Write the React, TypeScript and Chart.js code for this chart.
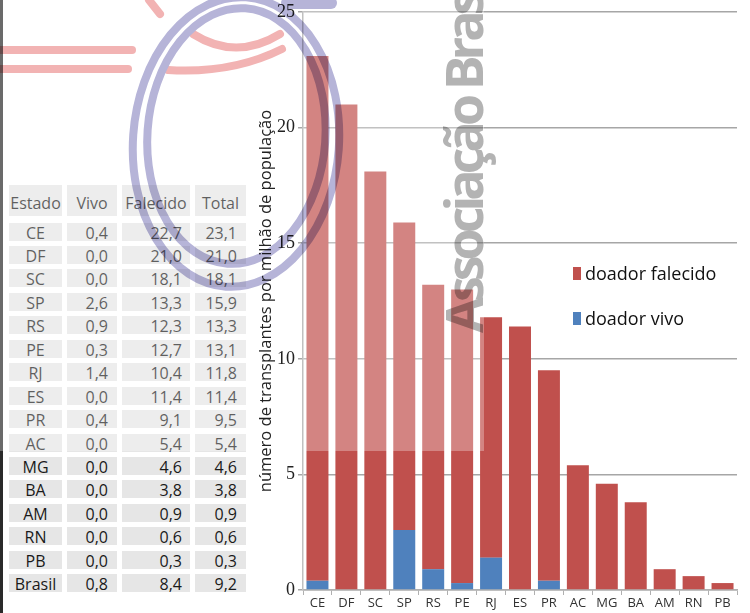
import React, { useEffect, useRef } from "react";
import { Chart, registerables } from "chart.js";

Chart.register(...registerables);

const estados = ["CE", "DF", "SC", "SP", "RS", "PE", "RJ", "ES", "PR", "AC", "MG", "BA", "AM", "RN", "PB"];
const vivo = [0.4, 0.0, 0.0, 2.6, 0.9, 0.3, 1.4, 0.0, 0.4, 0.0, 0.0, 0.0, 0.0, 0.0, 0.0];
const falecido = [22.7, 21.0, 18.1, 13.3, 12.3, 12.7, 10.4, 11.4, 9.1, 5.4, 4.6, 3.8, 0.9, 0.6, 0.3];
const total = [23.1, 21.0, 18.1, 15.9, 13.3, 13.1, 11.8, 11.4, 9.5, 5.4, 4.6, 3.8, 0.9, 0.6, 0.3];
const brasil = { estado: "Brasil", vivo: 0.8, falecido: 8.4, total: 9.2 };
const tableHeaders = ["Estado", "Vivo", "Falecido", "Total"];
const yTitle = "número de transplantes por milhão de população";
const legendLabels = ["doador falecido", "doador vivo"];
const watermarkText = "Associação Bras";

const RED = "#c0504d";
const BLUE = "#4f81bd";

const fmt = (v: number) => v.toFixed(1).replace(".", ",");

const cols = [
  { left: 9, width: 53, align: "center" as const, padR: 0 },
  { left: 67, width: 50, align: "right" as const, padR: 9 },
  { left: 122, width: 68, align: "right" as const, padR: 8 },
  { left: 195, width: 51, align: "right" as const, padR: 9 },
];

function Table() {
  const rows = estados.map((e, i) => [e, fmt(vivo[i]), fmt(falecido[i]), fmt(total[i])]);
  rows.push([brasil.estado, fmt(brasil.vivo), fmt(brasil.falecido), fmt(brasil.total)]);
  const font = { fontFamily: "'Open Sans', sans-serif", fontSize: 16, color: "#1a1a1a" };
  return (
    <>
      {tableHeaders.map((h, c) => (
        <div
          key={"h" + c}
          style={{
            position: "absolute",
            left: cols[c].left,
            top: 185,
            width: cols[c].width,
            height: 31,
            background: "#e6e6e6",
            textAlign: "center",
            lineHeight: "36px",
            whiteSpace: "nowrap",
            ...font,
          }}
        >
          {h}
        </div>
      ))}
      {rows.map((r, i) =>
        r.map((t, c) => (
          <div
            key={i + "-" + c}
            style={{
              position: "absolute",
              left: cols[c].left,
              top: 222.5 + i * 23.45,
              width: cols[c].width,
              height: 18,
              background: "#e6e6e6",
              textAlign: cols[c].align,
              boxSizing: "border-box",
              paddingRight: cols[c].padR,
              lineHeight: "20px",
              whiteSpace: "nowrap",
              ...font,
            }}
          >
            {t}
          </div>
        ))
      )}
    </>
  );
}

export default function App() {
  const ref = useRef<HTMLCanvasElement | null>(null);

  useEffect(() => {
    document.body.style.margin = "0";
    const canvas = ref.current;
    if (!canvas) return;
    const chart = new Chart(canvas, {
      type: "bar",
      data: {
        labels: estados,
        datasets: [
          { label: legendLabels[1], data: vivo, backgroundColor: BLUE },
          { label: legendLabels[0], data: falecido, backgroundColor: RED },
        ],
      },
      options: {
        animation: false,
        responsive: false,
        layout: { padding: { left: 255, right: 13, top: 10, bottom: 0 } },
        plugins: { legend: { display: false }, tooltip: { enabled: false } },
        datasets: { bar: { categoryPercentage: 1, barPercentage: 0.76 } },
        scales: {
          x: {
            stacked: true,
            grid: { display: true, drawOnChartArea: false, tickLength: 5, color: "#b0b0b0", offset: true },
            border: { color: "#b0b0b0", width: 1.5 },
            ticks: {
              font: { family: "'Open Sans', sans-serif", size: 13 },
              color: "#333333",
              padding: 0,
              maxRotation: 0,
              autoSkip: false,
            },
            afterFit: (s: any) => {
              s.height = 23;
            },
          },
          y: {
            stacked: true,
            min: 0,
            max: 25,
            ticks: {
              stepSize: 5,
              font: { family: "'Liberation Serif', serif", size: 18, lineHeight: 1 },
              color: "#222222",
              padding: 3,
            },
            grid: { color: "#a6a6a6", lineWidth: 1.5, tickLength: 5 },
            border: { color: "#c0c0c0", width: 1.5 },
            title: {
              display: true,
              text: yTitle,
              font: { family: "'Open Sans', sans-serif", size: 16.5 },
              color: "#222222",
              padding: { top: 1, bottom: 0 },
            },
            afterFit: (s: any) => {
              s.width = 48;
            },
          },
        },
      },
    });
    return () => chart.destroy();
  }, []);

  const legendFont = { fontFamily: "'Open Sans', sans-serif", fontSize: 18, color: "#111" };

  return (
    <div
      style={{
        position: "absolute",
        left: 0,
        top: 0,
        width: 750,
        height: 613,
        overflow: "hidden",
        background: "#ffffff",
      }}
    >
      <div style={{ position: "absolute", left: 0, top: 0, width: 2.5, height: 613, background: "#2a2a2a" }} />
      <Table />
      <canvas
        ref={ref}
        width={750}
        height={613}
        style={{ position: "absolute", left: 0, top: 0, width: 750, height: 613 }}
      />
      {[RED, BLUE].map((c, i) => (
        <React.Fragment key={"lg" + i}>
          <div
            style={{
              position: "absolute",
              left: 573,
              top: 267 + i * 45,
              width: 8,
              height: 13,
              background: c,
            }}
          />
          <div
            style={{
              position: "absolute",
              left: 585,
              top: 261 + i * 45,
              height: 24,
              lineHeight: "24px",
              whiteSpace: "nowrap",
              ...legendFont,
            }}
          >
            {legendLabels[i]}
          </div>
        </React.Fragment>
      ))}
      <div style={{ position: "absolute", left: 0, top: 0, width: 250, height: 451, background: "rgba(255,255,255,0.3)" }} />
      <div style={{ position: "absolute", left: 304, top: 0, width: 180, height: 451, background: "rgba(255,255,255,0.3)" }} />
      <svg
        width={750}
        height={613}
        style={{ position: "absolute", left: 0, top: 0, mixBlendMode: "multiply", pointerEvents: "none" }}
      >
        <g stroke="#f2b3b3" strokeWidth={8} strokeLinecap="round" fill="none">
          <path d="M-5,50 H132" />
          <path d="M-5,69 H128" />
          <path d="M193,34 Q236,61 280,34" />
          <path d="M168,70 Q232,74 282,49" />
          <path d="M149,0 L160,14" />
        </g>
        <g stroke="#b6b4d8" strokeWidth={8} fill="none" transform="rotate(4 236 142)">
          <ellipse cx={236} cy={142} rx={103} ry={145} />
          <ellipse cx={236} cy={136} rx={89} ry={128} />
        </g>
        <path d="M287,3 H331" stroke="#b6b4d8" strokeWidth={12} strokeLinecap="round" />
        <text
          transform="translate(483,333) rotate(-90)"
          x={0}
          y={0}
          fill="#b3b3b3"
          fontFamily="'Open Sans', sans-serif"
          fontWeight={700}
          fontSize={52}
          letterSpacing={-5}
        >
          {watermarkText}
        </text>
      </svg>
    </div>
  );
}
